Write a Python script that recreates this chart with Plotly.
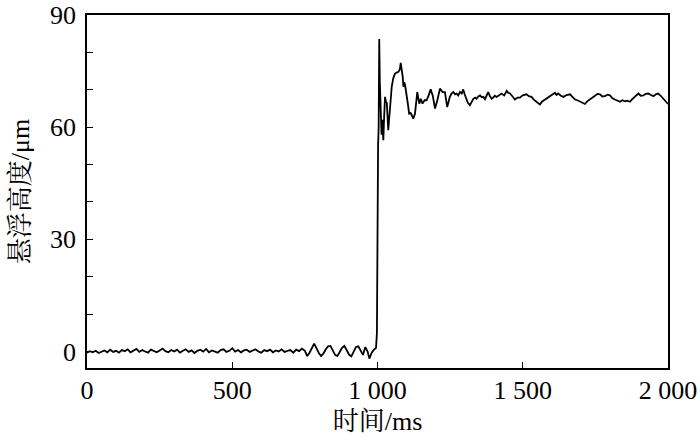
import plotly.graph_objects as go

# ---- data ----
# baseline before the jump (0-740 ms, every 10 ms)
base_t = list(range(0, 750, 10))
base_h = [
    -0.3, 0.1, -0.2, 0.2, -0.4, 0.0, 0.3, -0.2, 0.5, -0.1,
    0.2, -0.3, 0.4, 0.1, 0.6, -0.2, 0.3, 0.7, -0.1, 0.4,
    0.0, -0.3, 0.5, 0.2, -0.2, 0.3, 0.8, 0.1, -0.2, 0.4,
    0.0, 0.5, -0.3, 0.2, 0.6, -0.1, 0.3, -0.4, 0.2, 0.5,
    0.0, 0.7, -0.2, 0.3, 0.1, -0.3, 0.4, 0.6, -0.1, 0.2,
    0.9, 0.0, 0.4, -0.2, 0.3, 0.5, -0.1, 0.2, 0.6, 0.0,
    -0.3, 0.4, 0.1, 0.5, -0.2, 0.3, 0.0, 0.6, -0.1, 0.2,
    0.4, -0.3, 0.5, 0.1, 0.8,
]

# oscillating part just before the jump
osc_t = [750, 758, 766, 774, 782, 790, 798, 806, 814, 822, 830, 838, 846, 854,
         862, 870, 878, 886, 894, 902, 910, 918, 926, 934, 942, 950, 958, 966,
         972, 980, 988, 995]
osc_h = [0.2, -1.2, -0.3, 0.8, 2.1, 0.9, -0.4, -1.2, -0.5, 0.6, 1.4, 1.5, 0.3, -0.9,
         -1.2, -0.2, 1.0, 1.5, 0.4, -0.8, -1.3, -0.1, 1.2, 1.4, 0.3, -0.9, 1.2, 0.0,
         -1.9, -0.3, 0.5, 1.0]

# jump and overshoot
jump_t = [998, 1000, 1002, 1004, 1006, 1008, 1011, 1014, 1017, 1020, 1023, 1026,
          1029, 1032, 1037, 1043, 1049, 1054, 1060, 1066, 1072, 1077, 1080, 1084,
          1087, 1089, 1092, 1095, 1100, 1105, 1109, 1114, 1118, 1123, 1129, 1133,
          1137, 1141, 1144, 1149, 1155, 1162, 1169, 1176, 1183, 1190, 1198, 1206,
          1215, 1224, 1232, 1240, 1245, 1249, 1255, 1261, 1267, 1272, 1278, 1284,
          1290, 1295, 1300, 1305, 1311, 1318, 1324, 1330, 1336, 1341, 1347, 1353,
          1359, 1364, 1370, 1376, 1381, 1387, 1393, 1398]
jump_h = [5.0, 45.0, 55.0, 60.0, 83.6, 72.0, 65.0, 58.0, 62.0, 56.5, 63.0, 68.1,
          66.8, 66.5, 59.2, 65.4, 70.8, 73.0, 74.3, 74.6, 74.8, 75.5, 77.2, 75.0,
          73.4, 70.8, 72.0, 71.2, 69.0, 66.0, 63.6, 63.8, 63.2, 62.3, 63.6, 66.5,
          69.4, 67.5, 66.3, 67.6, 66.3, 67.2, 67.2, 68.5, 70.1, 68.5, 65.0, 67.2,
          70.3, 69.4, 69.4, 65.4, 67.5, 68.1, 69.0, 69.4, 68.8, 69.0, 68.5, 69.4,
          69.0, 70.1, 68.8, 67.6, 66.5, 65.9, 67.0, 67.6, 67.9, 67.6, 68.2, 68.5,
          68.0, 68.1, 67.5, 68.4, 69.4, 68.3, 67.6, 67.9]

# steady state
steady_t = [1404, 1410, 1418, 1427, 1436, 1445, 1450, 1456, 1465, 1473, 1482, 1490,
            1500, 1513, 1521, 1530, 1539, 1548, 1553, 1559, 1567, 1576, 1585, 1593,
            1602, 1611, 1616, 1622, 1631, 1640, 1651, 1663, 1671, 1680, 1688, 1697,
            1705, 1714, 1722, 1731, 1740, 1748, 1757, 1766, 1774, 1783, 1791, 1800,
            1808, 1817, 1826, 1835, 1843, 1852, 1860, 1869, 1877, 1886, 1892, 1898,
            1906, 1915, 1923, 1932, 1941, 1950, 1958, 1966, 1975, 1984, 1990, 1995,
            2000]
steady_h = [68.4, 68.1, 68.6, 69.0, 68.5, 69.7, 69.2, 69.0, 68.2, 67.4, 67.9, 67.9,
            68.5, 68.8, 68.3, 68.1, 67.3, 66.8, 66.4, 66.1, 66.9, 67.4, 67.8, 68.1,
            68.7, 69.2, 68.6, 69.0, 68.4, 68.1, 68.6, 68.8, 68.1, 67.4, 67.2, 66.8,
            66.5, 66.2, 66.9, 67.4, 68.0, 68.5, 68.9, 68.8, 68.2, 68.3, 68.7, 68.5,
            67.8, 67.4, 67.1, 66.8, 67.2, 66.9, 67.1, 66.8, 67.5, 68.1, 68.7, 69.0,
            68.4, 68.5, 68.9, 69.0, 68.6, 68.3, 68.8, 69.0, 68.4, 67.7, 67.2, 66.8,
            66.2]

x_ticks = [0, 500, 1000, 1500, 2000]
x_tick_text = ["0", "500", "1 000", "1 500", "2 000"]
y_ticks = [0, 10, 20, 30, 40, 50, 60, 70, 80, 90]
y_tick_text = ["0", "", "", "30", "", "", "60", "", "", "90"]

t_all = base_t + osc_t + jump_t + steady_t
h_all = base_h + osc_h + jump_h + steady_h
assert len(t_all) == len(h_all)

FONT = "Liberation Serif, Noto Serif CJK SC, Noto Sans CJK SC, serif"
FS = 26

fig = go.Figure(
    go.Scatter(x=t_all, y=h_all, mode="lines",
               line=dict(color="black", width=1.8), hoverinfo="skip")
)

fig.update_layout(
    width=700, height=443,
    margin=dict(l=87, r=32, t=15, b=75),
    paper_bgcolor="white", plot_bgcolor="white",
    showlegend=False,
    font=dict(family=FONT, size=FS, color="black"),
)

fig.update_xaxes(
    range=[0, 2000], tickvals=x_ticks, ticktext=x_tick_text,
    ticks="inside", ticklen=6, tickwidth=1.3, tickcolor="black",
    showline=True, linecolor="black", linewidth=1.5, mirror=True,
    showgrid=False, zeroline=False, automargin=False,
    tickfont=dict(family=FONT, size=FS),
    ticklabelstandoff=-2,
    title=dict(text="时间/ms", font=dict(family=FONT, size=FS), standoff=8),
)
fig.update_yaxes(
    range=[-4.4, 90], tickvals=y_ticks, ticktext=y_tick_text,
    ticks="inside", ticklen=6, tickwidth=1.3, tickcolor="black",
    showline=True, linecolor="black", linewidth=1.5, mirror=True,
    showgrid=False, zeroline=False, automargin=False,
    tickfont=dict(family=FONT, size=FS),
    ticklabelstandoff=4,
    title=dict(text="悬浮高度/μm", font=dict(family=FONT, size=FS), standoff=13),
)

# remove the default 8 px page margin so the figure fills the window exactly
fig.write_html("out.html",
               config={"displayModeBar": False},
               post_script="document.body.style.margin='0';")
